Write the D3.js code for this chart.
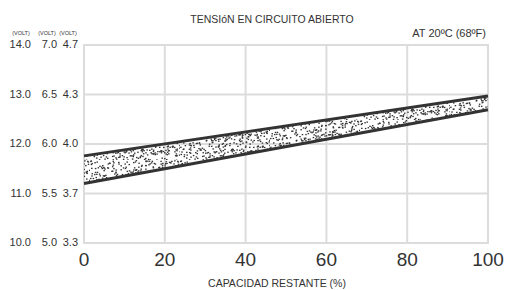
<!DOCTYPE html>
<html>
<head>
<meta charset="utf-8">
<script src="https://cdn.jsdelivr.net/npm/d3@7"></script>
<style>
  body { margin: 0; background: #fff; }
  text { font-family: "Liberation Sans", Arial, sans-serif; fill: #333; }
</style>
</head>
<body>
<svg id="chart" width="506" height="290"></svg>
<script>
// capacity (%) and the band of open-circuit voltage (12 V scale)
const capacity = [0, 100]
const upperVolt = [11.76, 12.97]
const lowerVolt = [11.2, 12.69]

const xTicks = [0, 20, 40, 60, 80, 100]
const yTicks = [10, 11, 12, 13, 14]
const labels12 = ['10.0', '11.0', '12.0', '13.0', '14.0']
const labels6 = ['5.0', '5.5', '6.0', '6.5', '7.0']
const labels4 = ['3.3', '3.7', '4.0', '4.3', '4.7']

const svg = d3.select('#chart')
const plotLeft = 84
const plotRight = 488
const plotTop = 45
const plotBottom = 243

const x = d3.scaleLinear().domain([0, 100]).range([plotLeft, plotRight])
const y = d3.scaleLinear().domain([10, 14]).range([plotBottom, plotTop])

// stipple texture (fixed seed so it is the same every time)
let seed = 11
const rnd = () => { seed = (seed * 16807) % 2147483647; return (seed - 1) / 2147483646 }
const pattern = svg.append('defs').append('pattern')
  .attr('id', 'stipple')
  .attr('patternUnits', 'userSpaceOnUse')
  .attr('width', 90).attr('height', 40)
for (let i = 0; i < 420; i++) {
  pattern.append('rect')
    .attr('x', rnd() * 90).attr('y', rnd() * 40)
    .attr('width', 1.5).attr('height', 1.3)
    .attr('fill', '#333')
}

// grid
const grid = svg.append('g').attr('stroke', '#dcdcdc').attr('stroke-width', 2)
grid.selectAll('line.v').data(xTicks).enter().append('line')
  .attr('x1', d => x(d)).attr('x2', d => x(d))
  .attr('y1', plotTop).attr('y2', plotBottom)
grid.selectAll('line.h').data(yTicks).enter().append('line')
  .attr('x1', plotLeft - 1).attr('x2', plotRight + 1)
  .attr('y1', d => y(d)).attr('y2', d => y(d))

// band
const band = capacity.map((c, i) => ({ c, lo: lowerVolt[i], hi: upperVolt[i] }))
svg.append('path')
  .datum(band)
  .attr('fill', 'url(#stipple)')
  .attr('d', d3.area().x(d => x(d.c)).y0(d => y(d.lo)).y1(d => y(d.hi)))

const line = d3.line().x(d => x(d[0])).y(d => y(d[1]))
for (const serie of [upperVolt, lowerVolt]) {
  svg.append('path')
    .datum(capacity.map((c, i) => [c, serie[i]]))
    .attr('fill', 'none')
    .attr('stroke', '#333')
    .attr('stroke-width', 3)
    .attr('d', line)
}

// y labels, three scales
const cols = [
  { labels: labels12, x: 31 },
  { labels: labels6, x: 57 },
  { labels: labels4, x: 78 }
]
cols.forEach(col => {
  svg.selectAll(null).data(yTicks).enter().append('text')
    .attr('x', col.x)
    .attr('y', d => y(d) + 3)
    .attr('text-anchor', 'end')
    .attr('font-size', 11)
    .text((d, i) => col.labels[i])
  svg.append('text')
    .attr('x', col.x - 10).attr('y', 35)
    .attr('text-anchor', 'middle')
    .attr('font-size', 5.5)
    .text('(VOLT)')
})

// x labels
svg.selectAll(null).data(xTicks).enter().append('text')
  .attr('x', d => x(d))
  .attr('y', 266)
  .attr('text-anchor', 'middle')
  .attr('font-size', 19)
  .attr('fill', '#222')
  .text(d => d)

svg.append('text')
  .attr('x', 277).attr('y', 287)
  .attr('text-anchor', 'middle')
  .attr('font-size', 10.5)
  .text('CAPACIDAD RESTANTE (%)')

svg.append('text')
  .attr('x', 272).attr('y', 23)
  .attr('text-anchor', 'middle')
  .attr('font-size', 10.5)
  .text('TENSIóN EN CIRCUITO ABIERTO')

svg.append('text')
  .attr('x', 486).attr('y', 37)
  .attr('text-anchor', 'end')
  .attr('font-size', 11)
  .text('AT 20ºC (68ºF)')
</script>
</body>
</html>
